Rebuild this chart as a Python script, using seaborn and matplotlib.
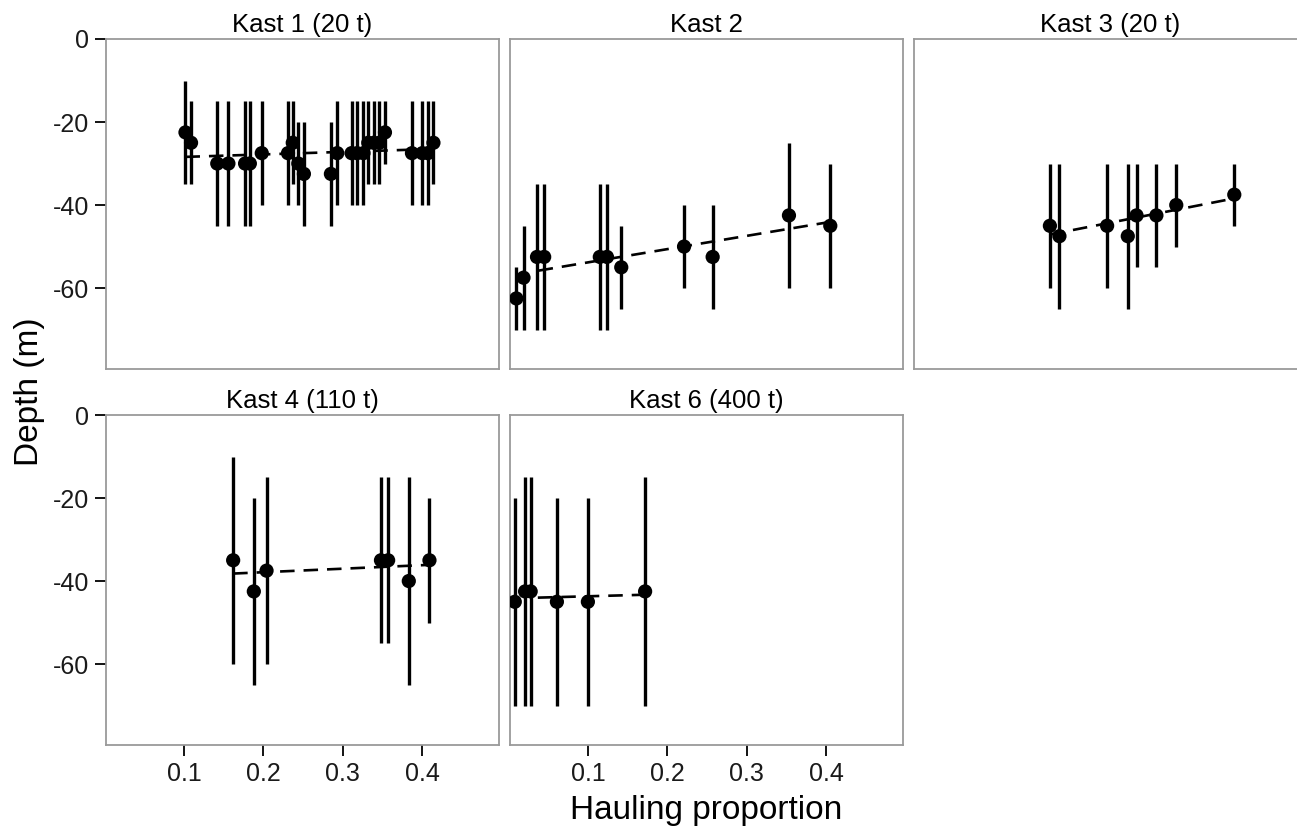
import numpy as np
import pandas as pd
import matplotlib
matplotlib.use("Agg")
import matplotlib.pyplot as plt
import seaborn as sns

sns.set_theme(style="white")
plt.rcParams['font.family'] = ['Liberation Sans', 'DejaVu Sans']

# Data ####################################################################
panel_titles = ["Kast 1 (20 t)", "Kast 2", "Kast 3 (20 t)", "Kast 4 (110 t)", "Kast 6 (400 t)"]

kast1_x = [0.102, 0.109, 0.142, 0.156, 0.177, 0.183, 0.198, 0.231, 0.237, 0.244, 0.251, 0.285,
           0.293, 0.311, 0.318, 0.326, 0.332, 0.339, 0.346, 0.353, 0.387, 0.400, 0.407, 0.414]
kast1_depth = [-22.5, -25, -30, -30, -30, -30, -27.5, -27.5, -25, -30, -32.5, -32.5,
               -27.5, -27.5, -27.5, -27.5, -25, -25, -25, -22.5, -27.5, -27.5, -27.5, -25]
kast1_top = [-10, -15, -15, -15, -15, -15, -15, -15, -15, -20, -20, -20,
             -15, -15, -15, -15, -15, -15, -15, -15, -15, -15, -15, -15]
kast1_bottom = [-35, -35, -45, -45, -45, -45, -40, -40, -35, -40, -45, -45,
                -40, -40, -40, -40, -35, -35, -35, -30, -40, -40, -40, -35]

kast2_x = [0.010, 0.019, 0.036, 0.045, 0.115, 0.124, 0.142, 0.221, 0.257, 0.353, 0.405]
kast2_depth = [-62.5, -57.5, -52.5, -52.5, -52.5, -52.5, -55, -50, -52.5, -42.5, -45]
kast2_top = [-55, -45, -35, -35, -35, -35, -45, -40, -40, -25, -30]
kast2_bottom = [-70, -70, -70, -70, -70, -70, -65, -60, -65, -60, -60]

kast3_x = [0.173, 0.185, 0.245, 0.271, 0.282, 0.307, 0.332, 0.405]
kast3_depth = [-45, -47.5, -45, -47.5, -42.5, -42.5, -40, -37.5]
kast3_top = [-30, -30, -30, -30, -30, -30, -30, -30]
kast3_bottom = [-60, -65, -60, -65, -55, -55, -50, -45]

kast4_x = [0.162, 0.188, 0.204, 0.348, 0.357, 0.383, 0.409]
kast4_depth = [-35, -42.5, -37.5, -35, -35, -40, -35]
kast4_top = [-10, -20, -15, -15, -15, -15, -20]
kast4_bottom = [-60, -65, -60, -55, -55, -65, -50]

kast6_x = [0.008, 0.021, 0.028, 0.061, 0.100, 0.172]
kast6_depth = [-45, -42.5, -42.5, -45, -45, -42.5]
kast6_top = [-20, -15, -15, -20, -20, -15]
kast6_bottom = [-70, -70, -70, -70, -70, -70]

# fitted trend lines (start / end)
fit_x = [[0.102, 0.414], [0.038, 0.407], [0.173, 0.405], [0.162, 0.409], [0.037, 0.172]]
fit_y = [[-28.4, -26.5], [-55.8, -44.0], [-47.1, -38.4], [-38.2, -36.1], [-44.0, -43.3]]

x_ticks = [0.1, 0.2, 0.3, 0.4]
y_ticks = [0, -20, -40, -60]

panels = [
    (kast1_x, kast1_depth, kast1_top, kast1_bottom),
    (kast2_x, kast2_depth, kast2_top, kast2_bottom),
    (kast3_x, kast3_depth, kast3_top, kast3_bottom),
    (kast4_x, kast4_depth, kast4_top, kast4_bottom),
    (kast6_x, kast6_depth, kast6_top, kast6_bottom),
]

# Layout ##################################################################
W, H = 1297, 827
fig = plt.figure(figsize=(W / 100, H / 100), dpi=100)
col_left = [106, 510, 914]
row_top = [39, 415]
pw, ph = 393, 330

for i, (px, pd_, ptop, pbot) in enumerate(panels):
    r, c = divmod(i, 3)
    left = col_left[c] / W
    bottom = (H - row_top[r] - ph) / H
    ax = fig.add_axes([left, bottom, pw / W, ph / H])

    df = pd.DataFrame({'x': px, 'depth': pd_, 'top': ptop, 'bottom': pbot})
    ax.vlines(df['x'], df['bottom'], df['top'], color='black', lw=2.4, zorder=2)
    sns.scatterplot(data=df, x='x', y='depth', ax=ax, color='black', s=105,
                    edgecolor='none', zorder=3)
    fit = pd.DataFrame({'x': fit_x[i], 'y': fit_y[i]})
    sns.lineplot(data=fit, x='x', y='y', ax=ax, color='black', lw=1.9, zorder=4,
                 linestyle=(0, (5.5, 3.4)))

    ax.set_xlim(0.002, 0.4965)
    ax.set_ylim(-79.5, 0)
    ax.set_xlabel('')
    ax.set_ylabel('')
    ax.set_title(panel_titles[i], fontsize=18.5, color='black', pad=5)
    for s in ax.spines.values():
        s.set_color('#9a9a9a')
        s.set_linewidth(1.3)

    ax.tick_params(axis='both', which='both', direction='out', length=8, width=1.3,
                   color='black', labelsize=18, labelcolor='#1a1a1a', pad=4,
                   bottom=(r == 1), left=(c == 0))
    if r == 1:
        ax.set_xticks(x_ticks)
        ax.set_xticklabels([f'{t:.1f}' for t in x_ticks])
    else:
        ax.set_xticks([])
    if c == 0:
        ax.set_yticks(y_ticks)
        ax.set_yticklabels([str(t) for t in y_ticks])
    else:
        ax.set_yticks([])

fig.text(706 / W, 1 - 810 / H, 'Hauling proportion', ha='center', va='center',
         fontsize=24, color='black')
fig.text(30 / W, 1 - 392 / H, 'Depth (m)', ha='center', va='center', rotation=90,
         fontsize=24, color='black')

fig.savefig('out.png', dpi=100)
